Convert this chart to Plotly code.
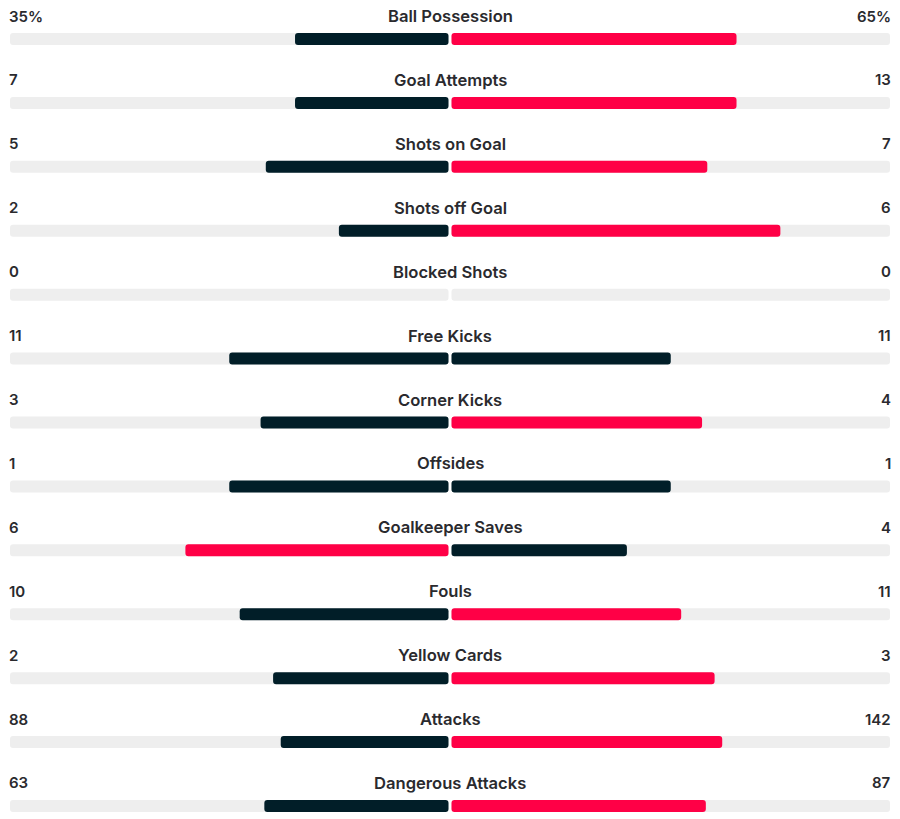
import plotly.graph_objects as go

stats = ["Ball Possession", "Goal Attempts", "Shots on Goal", "Shots off Goal",
         "Blocked Shots", "Free Kicks", "Corner Kicks", "Offsides",
         "Goalkeeper Saves", "Fouls", "Yellow Cards", "Attacks", "Dangerous Attacks"]
home = [35, 7, 5, 2, 0, 11, 3, 1, 6, 10, 2, 88, 63]
away = [65, 13, 7, 6, 0, 11, 4, 1, 4, 11, 3, 142, 87]
suffix = ["%", "", "", "", "", "", "", "", "", "", "", "", ""]

DARK = "#011E28"
RED = "#FF0046"
TRACK = "#EEEEEE"
TEXT = "#2A2A2E"

gap = 0.0034
n = len(stats)
ys = [-i for i in range(n)]

lfrac, rfrac, lcol, rcol = [], [], [], []
for h, a in zip(home, away):
    tot = h + a
    lf = h / tot if tot else 0
    rf = a / tot if tot else 0
    lfrac.append(-lf * (1 - gap))
    rfrac.append(rf * (1 - gap))
    if h > a:
        lcol.append(RED); rcol.append(DARK)
    elif a > h:
        lcol.append(DARK); rcol.append(RED)
    else:
        lcol.append(DARK); rcol.append(DARK)

bw = 12 / 63.9
fig = go.Figure()
fig.add_trace(go.Bar(y=ys, x=[-(1 - gap)] * n, base=[-gap] * n, orientation="h",
                     width=bw, marker=dict(color=TRACK, cornerradius=3, line_width=0),
                     hoverinfo="skip"))
fig.add_trace(go.Bar(y=ys, x=[(1 - gap)] * n, base=[gap] * n, orientation="h",
                     width=bw, marker=dict(color=TRACK, cornerradius=3, line_width=0),
                     hoverinfo="skip"))
fig.add_trace(go.Bar(y=ys, x=lfrac, base=[-gap] * n, orientation="h",
                     width=bw, marker=dict(color=lcol, cornerradius=3, line_width=0)))
fig.add_trace(go.Bar(y=ys, x=rfrac, base=[gap] * n, orientation="h",
                     width=bw, marker=dict(color=rcol, cornerradius=3, line_width=0)))

lfont = dict(family="Inter", size=16.6, color=TEXT, weight=600)
vfont = dict(family="Inter", size=15, color=TEXT, weight=600)
ann = []
for i, (s, h, a, suf) in enumerate(zip(stats, home, away, suffix)):
    yy = -i + 23 / 63.9
    ann.append(dict(x=0, y=yy, xref="x", yref="y", text=s, showarrow=False,
                    xanchor="center", yanchor="middle", font=lfont))
    ann.append(dict(x=-1, y=yy, xref="x", yref="y", text=f"{h}{suf}", showarrow=False,
                    xanchor="left", yanchor="middle", xshift=-3, font=vfont))
    ann.append(dict(x=1, y=yy, xref="x", yref="y", text=f"{a}{suf}", showarrow=False,
                    xanchor="right", yanchor="middle", xshift=3, font=vfont))

fig.update_layout(
    width=900, height=819, margin=dict(l=10, r=10, t=0, b=0),
    paper_bgcolor="white", plot_bgcolor="white",
    barmode="overlay", showlegend=False, annotations=ann,
    xaxis=dict(range=[-1, 1], visible=False, fixedrange=True),
    yaxis=dict(range=[-(n - 1) - 13 / 63.9, 39 / 63.9], visible=False, fixedrange=True),
)
fig.write_html("out.html")
